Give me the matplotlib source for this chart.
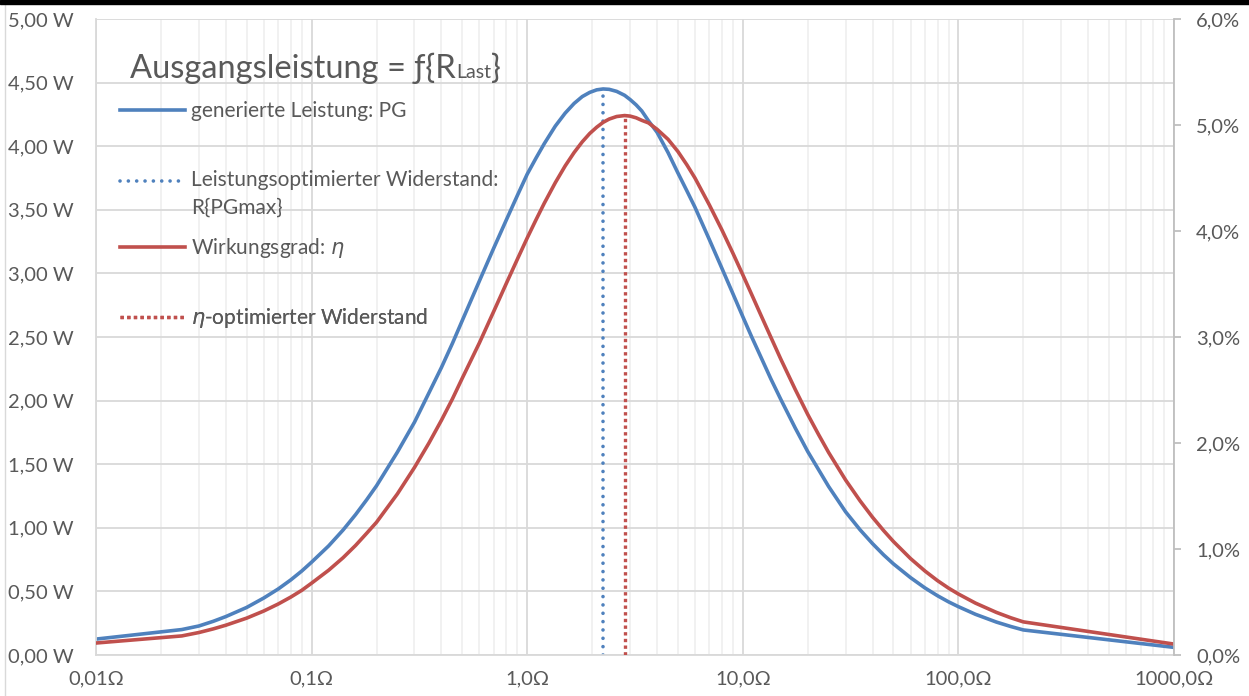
"""Ausgangsleistung und Wirkungsgrad in Abhängigkeit vom Lastwiderstand."""

import matplotlib

matplotlib.use("Agg")
import matplotlib.pyplot as plt
from matplotlib.lines import Line2D
from matplotlib.offsetbox import AnchoredOffsetbox, HPacker, TextArea
from matplotlib.patches import Rectangle
from matplotlib.ticker import FixedLocator, FuncFormatter, LogLocator, MultipleLocator, NullFormatter

# --- data ------------------------------------------------------------------
r_last = [0.01, 0.025, 0.03, 0.035, 0.04, 0.05, 0.06, 0.07, 0.08, 0.09, 0.1,
          0.12, 0.14, 0.16, 0.18, 0.2, 0.25, 0.3, 0.35, 0.4, 0.45, 0.5, 0.6,
          0.7, 0.8, 0.9, 1.0, 1.1, 1.2, 1.35, 1.5, 1.65, 1.8, 1.95, 2.1, 2.25,
          2.4, 2.6, 2.83, 3.0, 3.2, 3.4, 3.65, 4.0, 4.5, 5.0, 5.5, 6.0, 7.0,
          8.0, 9.0, 10.0, 11.0, 12.0, 13.5, 15.0, 17.5, 20.0, 22.5, 25.0, 30.0,
          35.0, 40.0, 45.0, 50.0, 60.0, 70.0, 80.0, 90.0, 100.0, 120.0, 150.0,
          175.0, 200.0, 1000.0]
p_gen_w = [0.125, 0.20, 0.228, 0.265, 0.302, 0.374, 0.448, 0.519, 0.590, 0.660,
           0.73, 0.858, 0.983, 1.104, 1.22, 1.33, 1.595, 1.83, 2.06, 2.26, 2.45,
           2.63, 2.94, 3.20, 3.42, 3.612, 3.78, 3.908, 4.02, 4.158, 4.26, 4.336,
           4.39, 4.423, 4.443, 4.45, 4.447, 4.431, 4.40, 4.367, 4.325, 4.277,
           4.20, 4.11, 3.95, 3.79, 3.65, 3.52, 3.265, 3.04, 2.84, 2.66, 2.50,
           2.36, 2.17, 2.01, 1.785, 1.60, 1.455, 1.325, 1.125, 0.984, 0.875,
           0.787, 0.716, 0.608, 0.527, 0.466, 0.418, 0.38, 0.32, 0.259, 0.224,
           0.197, 0.06]
eta_pct = [0.113, 0.18, 0.212, 0.2465, 0.281, 0.348, 0.415, 0.481, 0.546, 0.610,
           0.678, 0.80, 0.918, 1.034, 1.148, 1.252, 1.52, 1.769, 1.999, 2.214,
           2.416, 2.612, 2.944, 3.243, 3.505, 3.733, 3.934, 4.108, 4.262, 4.456,
           4.614, 4.740, 4.841, 4.920, 4.979, 5.025, 5.056, 5.080, 5.089, 5.084,
           5.068, 5.044, 5.02, 4.96, 4.865, 4.75, 4.625, 4.50, 4.245, 4.01, 3.79,
           3.587, 3.40, 3.228, 2.997, 2.792, 2.506, 2.27, 2.077, 1.911, 1.650,
           1.454, 1.2985, 1.1736, 1.070, 0.9095, 0.792, 0.7016, 0.631, 0.5755,
           0.4895, 0.402, 0.351, 0.3125, 0.103]
r_opt_p, p_max_w = 2.25, 4.45
r_opt_eta, eta_max_pct = 2.83, 5.089

x_ticks = [0.01, 0.1, 1, 10, 100, 1000]
x_tick_labels = ["0,01Ω", "0,1Ω", "1,0Ω", "10,0Ω", "100,0Ω", "1000,0Ω"]

legend_labels = [
    "generierte Leistung: PG",
    " \nLeistungsoptimierter Widerstand:\nR{PGmax}",
    "Wirkungsgrad: $\\eta$",
    "$\\eta$-optimierter Widerstand",
]

BLUE = "#4F81BD"
RED = "#C0504D"
TEXT = "#595959"
GRID = "#d9d9d9"
MINOR = "#f0f0f0"
FS_TICK = 14.5
FS_LEG = 15

plt.rcParams["font.family"] = ["Lato", "DejaVu Sans"]

W, H = 1249, 696
fig = plt.figure(figsize=(W / 100, H / 100), dpi=100)
left, right, top, bottom = 96, 1174, 19, 655
ax = fig.add_axes([left / W, 1 - bottom / H, (right - left) / W, (bottom - top) / H])

ax.set_xscale("log")
ax.plot(r_last, p_gen_w, color=BLUE, lw=2.6, solid_joinstyle="round")
ax.plot([r_opt_p, r_opt_p], [0, p_max_w], color=BLUE, lw=2.6,
        linestyle=(0, (0.01, 2.3)), dash_capstyle="round")
ax.set_xlim(0.01, 1000)
ax.set_ylim(0, 5)

ax2 = ax.twinx()
ax2.plot(r_last, eta_pct, color=RED, lw=2.6, solid_joinstyle="round")
ax2.plot([r_opt_eta, r_opt_eta], [0, eta_max_pct], color=RED, lw=2.4,
         linestyle=(0, (1, 1)))
ax2.set_ylim(0, 6)

# grid + axes styling
ax.set_axisbelow(True)
ax.xaxis.set_major_locator(FixedLocator(x_ticks))
ax.xaxis.set_major_formatter(FuncFormatter(lambda v, i: x_tick_labels[i] if i < len(x_tick_labels) else ""))
ax.xaxis.set_minor_locator(LogLocator(base=10, subs=range(2, 10), numticks=20))
ax.xaxis.set_minor_formatter(NullFormatter())
ax.yaxis.set_major_locator(MultipleLocator(0.5))
ax.yaxis.set_major_formatter(FuncFormatter(lambda v, _: f"{v:.2f} W".replace(".", ",")))
ax.grid(which="major", axis="both", color=GRID, lw=1.3)
ax.grid(which="minor", axis="x", color=MINOR, lw=1.3)

ax.tick_params(axis="both", which="both", length=0, colors=TEXT, labelsize=FS_TICK)
ax.tick_params(axis="y", pad=16)
ax.tick_params(axis="x", pad=11)
for s in ("top", "right"):
    ax.spines[s].set_visible(False)
for s in ("left", "bottom"):
    ax.spines[s].set_color(GRID)
    ax.spines[s].set_linewidth(1.3)

ax2.yaxis.set_major_locator(MultipleLocator(1))
ax2.yaxis.set_major_formatter(FuncFormatter(lambda v, _: f"{v:.1f}%".replace(".", ",")))
ax2.tick_params(axis="y", length=5, width=1.3, color="#bfbfbf", labelcolor=TEXT,
                labelsize=FS_TICK, pad=11, direction="out")
for s in ("top", "left", "bottom"):
    ax2.spines[s].set_visible(False)
ax2.spines["right"].set_color("#bfbfbf")
ax2.spines["right"].set_linewidth(1.3)

# title with small "Last"
title_box = HPacker(
    children=[
        TextArea("Ausgangsleistung = ƒ{R", textprops=dict(size=23.5, color=TEXT)),
        TextArea("Last", textprops=dict(size=14, color=TEXT)),
        TextArea("}", textprops=dict(size=23.5, color=TEXT)),
    ],
    align="baseline", pad=0, sep=0,
)
ax.add_artist(AnchoredOffsetbox(loc="lower left", child=title_box, pad=0, borderpad=0,
                                frameon=False, bbox_to_anchor=(130 / W, 1 - 84 / H),
                                bbox_transform=fig.transFigure))

# legend entries, each placed on its own row
handles = [
    Line2D([], [], color=BLUE, lw=2.6),
    Line2D([], [], color=BLUE, lw=2.6, linestyle=(0, (0.01, 2.3)), dash_capstyle="round"),
    Line2D([], [], color=RED, lw=2.6),
    Line2D([], [], color=RED, lw=2.4, linestyle=(0, (1, 1))),
]
row_y = [111, 180, 248, 318]
for h, lab, y in zip(handles, legend_labels, row_y):
    leg = ax2.legend([h], [lab], loc="center left", bbox_to_anchor=(120 / W, 1 - y / H),
                     bbox_transform=fig.transFigure, frameon=False, fontsize=FS_LEG,
                     handlelength=3.1, handletextpad=0.32, borderpad=0, borderaxespad=0,
                     labelcolor=TEXT)
    for t in leg.get_texts():
        t.set_linespacing(1.45)
    ax2.add_artist(leg)

# outer frame bits of the screenshot
fig.patches.append(Rectangle((0, 1 - 4 / H), 1, 4 / H, transform=fig.transFigure,
                             color="black", zorder=10))
fig.lines.append(Line2D([5 / W, 5 / W], [0, 1 - 4 / H], transform=fig.transFigure,
                        color=GRID, lw=1))

fig.savefig("out.png", dpi=100)
plt.close(fig)
